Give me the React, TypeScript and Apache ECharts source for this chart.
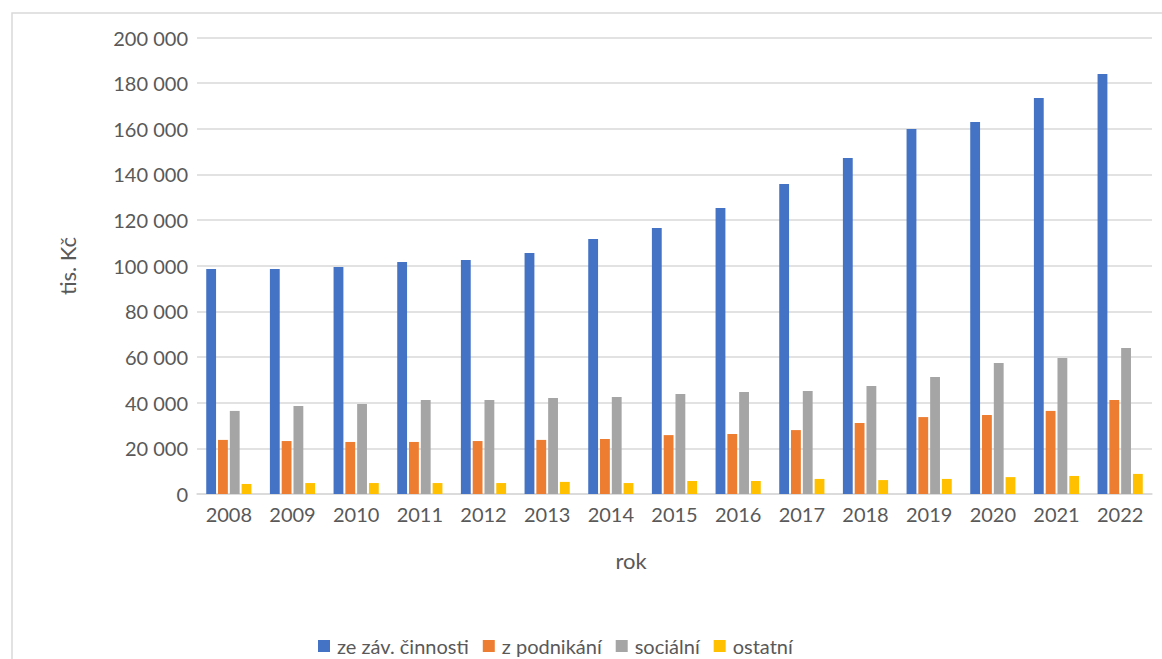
import React, { useEffect, useRef } from "react";
import * as echarts from "echarts";

const years = ["2008","2009","2010","2011","2012","2013","2014","2015","2016","2017","2018","2019","2020","2021","2022"];
const zavislaCinnost = [98600, 98600, 99500, 101600, 102500, 105600, 111700, 116500, 125300, 135800, 147200, 159900, 163000, 173500, 184000];
const podnikani = [23700, 23200, 22800, 22800, 23200, 23700, 24100, 25800, 26300, 28000, 31100, 33700, 34600, 36400, 41200];
const socialni = [36400, 38600, 39400, 41200, 41200, 42100, 42500, 43800, 44700, 45100, 47300, 51300, 57400, 59600, 64000];
const ostatni = [4400, 4800, 4800, 4800, 4800, 5300, 4800, 5700, 5700, 6600, 6100, 6600, 7400, 7900, 8800];
const seriesNames = ["ze záv. činnosti", "z podnikání", "sociální", "ostatní"];
const colors = ["#4472C4", "#ED7D31", "#A5A5A5", "#FFC000"];
const yTicks = { min: 0, max: 200000, interval: 20000 };

const FONT = "Lato, 'Open Sans', sans-serif";
const TEXT = "#595959";

function fmt(v: number): string {
  return String(Math.round(v)).replace(/\B(?=(\d{3})+(?!\d))/g, " ");
}

export default function App() {
  const ref = useRef<HTMLDivElement>(null);
  useEffect(() => {
    if (!ref.current) return;
    const chart = echarts.init(ref.current, undefined, { renderer: "svg" });
    const data = [zavislaCinnost, podnikani, socialni, ostatni];
    chart.setOption({
      animation: false,
      backgroundColor: "#ffffff",
      color: colors,
      textStyle: { fontFamily: FONT },
      grid: { left: 197, right: 10, top: 37.5, bottom: 165, containLabel: false },
      legend: {
        left: 313,
        top: 631,
        itemWidth: 12,
        itemHeight: 12,
        itemGap: 14,
        icon: "rect",
        textStyle: { fontSize: 20, color: TEXT, fontFamily: FONT, padding: [0, 0, 0, 2] },
        data: seriesNames,
      },
      xAxis: {
        type: "category",
        data: years,
        axisLine: { show: true, lineStyle: { color: "#D9D9D9", width: 1.5 } },
        axisTick: { show: false },
        axisLabel: { color: TEXT, fontSize: 20, margin: 10, fontFamily: FONT },
      },
      yAxis: {
        type: "value",
        min: yTicks.min,
        max: yTicks.max,
        interval: yTicks.interval,
        axisLine: { show: false },
        axisTick: { show: false },
        splitLine: { lineStyle: { color: "#D9D9D9", width: 1.5 } },
        axisLabel: { color: TEXT, fontSize: 20, margin: 9, fontFamily: FONT, formatter: (v: number) => fmt(v) },
      },
      graphic: [
        {
          type: "rect",
          shape: { x: 12, y: 13, width: 1300, height: 800 },
          style: { fill: "none", stroke: "#D9D9D9", lineWidth: 1.5 },
          silent: true,
        },
        {
          type: "text",
          x: 631,
          y: 560,
          style: { text: "rok", fontSize: 22, fill: TEXT, fontFamily: FONT, align: "center", verticalAlign: "middle" },
        },
        {
          type: "text",
          x: 67,
          y: 266,
          rotation: Math.PI / 2,
          style: { text: "tis. Kč", fontSize: 22, fill: TEXT, fontFamily: FONT, align: "center", verticalAlign: "middle" },
        },
      ],
      series: seriesNames.map((name, i) => ({
        name,
        type: "bar",
        data: data[i],
        barGap: "20%",
        barCategoryGap: "29%",
        itemStyle: { color: colors[i] },
      })),
    });
    return () => chart.dispose();
  }, []);
  return <div ref={ref} style={{ position: "fixed", left: 0, top: 0, width: 1162, height: 659 }} />;
}
